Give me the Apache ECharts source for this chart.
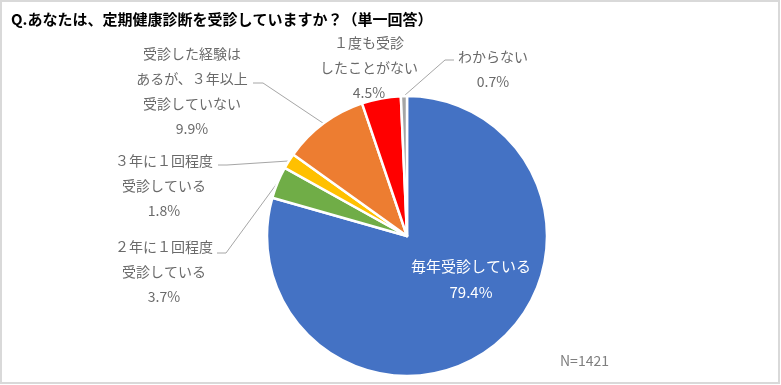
<!DOCTYPE html>
<html>
<head>
<meta charset="utf-8">
<script src="https://cdn.jsdelivr.net/npm/echarts@6/dist/echarts.min.js"></script>
<style>
html,body{margin:0;padding:0;background:#fff;}
#chart{width:781px;height:385px;}
</style>
</head>
<body>
<div id="chart"></div>
<script>
const titleText = 'Q.あなたは、定期健康診断を受診していますか？（単一回答）';
const categories = [
  '毎年受診している',
  '２年に１回程度\n受診している',
  '３年に１回程度\n受診している',
  '受診した経験は\nあるが、３年以上\n受診していない',
  '１度も受診\nしたことがない',
  'わからない'
];
const values = [79.4, 3.7, 1.8, 9.9, 4.5, 0.7];
const colors = ['#4472C4', '#70AD47', '#FFC000', '#ED7D31', '#FF0000', '#A5A5A5'];
const sampleNote = 'N=1421';

// label placement (anchor = top-center of text block) and leader elbow/end points
const labelPlace = [
  { x: 471, y: 253, line: null },
  { x: 164, y: 234, line: [[226, 253], [217, 253]] },
  { x: 164, y: 148, line: [[227, 165], [218, 165]] },
  { x: 192, y: 41,  line: [[263, 83], [253, 83]] },
  { x: 369, y: 30,  line: null },
  { x: 493, y: 44,  line: [[445, 60], [454, 60]] }
];

const chart = echarts.init(document.getElementById('chart'), null, { renderer: 'canvas' });
const font = '"Noto Sans CJK JP", "Noto Sans", sans-serif';

const seriesData = categories.map((name, i) => ({
  name: name,
  value: values[i],
  itemStyle: { color: colors[i] },
  label: i === 0
    ? { color: '#ffffff', fontSize: 15, lineHeight: 26 }
    : {},
  labelLine: { show: labelPlace[i].line !== null }
}));

chart.setOption({
  animation: false,
  backgroundColor: '#ffffff',
  title: {
    text: titleText,
    left: 6,
    top: 7,
    textStyle: { fontFamily: font, fontSize: 15, fontWeight: 'bold', color: '#000000' }
  },
  graphic: [
    {
      type: 'rect',
      shape: { x: 1, y: 1, width: 778, height: 382 },
      style: { fill: 'none', stroke: '#d9d9d9', lineWidth: 2 },
      silent: true
    },
    {
      type: 'text',
      left: 560,
      top: 354,
      style: { text: sampleNote, fontFamily: font, fontSize: 14, fill: '#7f7f7f' }
    }
  ],
  series: [{
    type: 'pie',
    center: [407, 236],
    radius: 140,
    startAngle: 90,
    clockwise: true,
    avoidLabelOverlap: false,
    itemStyle: { borderColor: '#ffffff', borderWidth: 2.5 },
    label: {
      show: true,
      position: 'outside',
      formatter: p => p.name + '\n' + p.value.toFixed(1) + '%',
      fontFamily: font,
      fontSize: 14,
      lineHeight: 25,
      color: '#6a6a6a',
      align: 'center'
    },
    labelLine: {
      show: true,
      length: 10,
      length2: 10,
      lineStyle: { color: '#a6a6a6', width: 1 }
    },
    labelLayout: function (params) {
      const i = params.dataIndex;
      const pl = labelPlace[i];
      const res = { x: pl.x, y: pl.y, align: 'center', verticalAlign: 'top' };
      if (pl.line) {
        let start;
        if (params.labelLinePoints && params.labelLinePoints[0]) {
          start = params.labelLinePoints[0];
        } else {
          let before = 0;
          for (let k = 0; k < i; k++) before += values[k];
          const total = values.reduce((a, b) => a + b, 0);
          const ang = (before + values[i] / 2) / total * Math.PI * 2;
          start = [407 + 140 * Math.sin(ang), 236 - 140 * Math.cos(ang)];
        }
        res.labelLinePoints = [start, pl.line[0], pl.line[1]];
      }
      return res;
    },
    data: seriesData
  }]
});
</script>
</body>
</html>
